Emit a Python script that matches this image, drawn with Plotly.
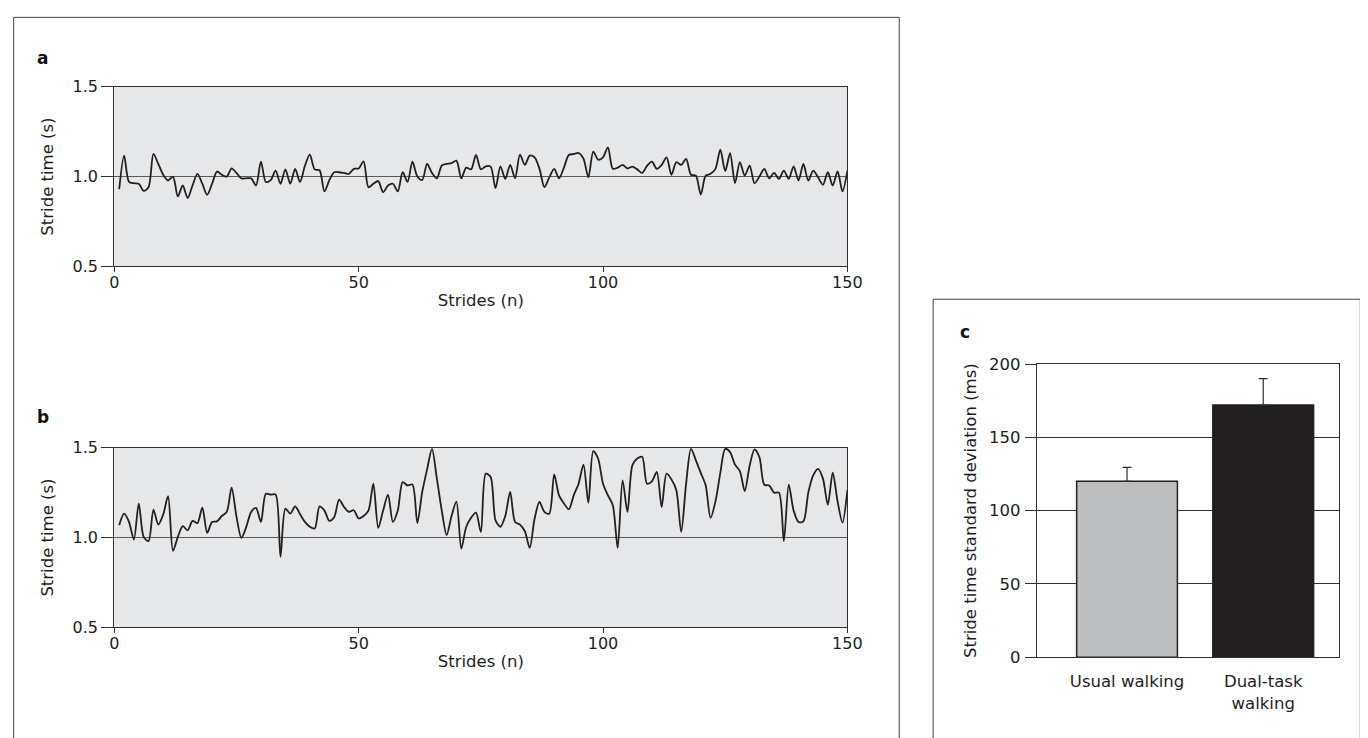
import plotly.graph_objects as go

# ---------------- data ----------------
strides = list(range(1, 151))

usual_stride_time = [
    0.93, 1.117, 0.97, 0.963, 0.96, 0.92, 0.94, 1.126, 1.07, 1.01,
    0.978, 1.0, 0.889, 0.95, 0.88, 0.95, 1.015, 0.96, 0.898, 0.96,
    1.028, 1.01, 1.0, 1.046, 1.02, 0.99, 0.99, 0.99, 0.95, 1.083,
    0.97, 0.98, 1.033, 0.96, 1.04, 0.96, 1.043, 0.97, 1.06, 1.122,
    1.04, 1.035, 0.917, 0.98, 1.024, 1.024, 1.02, 1.015, 1.043, 1.045,
    1.085, 0.94, 0.96, 0.975, 0.913, 0.95, 0.96, 0.917, 1.024, 0.97,
    1.083, 1.0, 0.98, 1.07, 1.02, 0.99, 1.061, 1.07, 1.075, 1.089,
    0.99, 1.05, 1.04, 1.12, 1.04, 1.057, 1.055, 0.935, 1.057, 0.987,
    1.065, 0.99, 1.122, 1.065, 1.117, 1.107, 1.043, 0.941, 0.995, 1.043,
    0.99, 1.05, 1.12, 1.125, 1.131, 1.1, 0.996, 1.139, 1.094, 1.107,
    1.163, 1.043, 1.05, 1.065, 1.045, 1.055, 1.04, 1.02, 1.06, 1.083,
    1.043, 1.065, 1.107, 1.01, 1.08, 1.065, 1.098, 1.01, 1.005, 0.9,
    1.005, 1.015, 1.043, 1.15, 1.03, 1.13, 0.963, 1.08, 1.005, 1.061,
    0.963, 1.0, 1.043, 0.99, 1.02, 0.987, 1.033, 0.987, 1.057, 0.978,
    1.07, 0.978, 1.033, 0.996, 0.954, 1.024, 0.95, 1.028, 0.917, 1.033,
]

dual_stride_time = [
    1.069, 1.133, 1.087, 0.989, 1.189, 1.004, 0.98, 1.156, 1.072, 1.128,
    1.23, 0.926, 1.004, 1.063, 1.04, 1.093, 1.08, 1.167, 1.026, 1.087,
    1.09, 1.12, 1.143, 1.278, 1.115, 0.998, 1.059, 1.143, 1.165, 1.087,
    1.244, 1.239, 1.24, 0.893, 1.161, 1.133, 1.174, 1.13, 1.087, 1.06,
    1.05, 1.174, 1.15, 1.093, 1.115, 1.211, 1.17, 1.143, 1.152, 1.106,
    1.12, 1.15, 1.30, 1.054, 1.15, 1.239, 1.087, 1.15, 1.309, 1.29,
    1.296, 1.081, 1.254, 1.38, 1.494, 1.328, 1.15, 1.013, 1.12, 1.2,
    0.939, 1.059, 1.11, 1.139, 1.031, 1.356, 1.337, 1.096, 1.06, 1.12,
    1.254, 1.087, 1.072, 1.035, 0.943, 1.106, 1.198, 1.143, 1.133, 1.352,
    1.235, 1.19, 1.157, 1.235, 1.30, 1.406, 1.194, 1.481, 1.439, 1.30,
    1.235, 1.18, 0.943, 1.319, 1.143, 1.402, 1.44, 1.45, 1.30, 1.313,
    1.365, 1.17, 1.356, 1.324, 1.263, 1.031, 1.30, 1.494, 1.43, 1.36,
    1.291, 1.109, 1.2, 1.36, 1.494, 1.476, 1.406, 1.37, 1.259, 1.40,
    1.491, 1.448, 1.294, 1.29, 1.25, 1.25, 0.98, 1.294, 1.15, 1.087,
    1.09, 1.25, 1.346, 1.383, 1.328, 1.183, 1.361, 1.2, 1.083, 1.263,
]

conditions = ["Usual walking", "Dual-task<br>walking"]
sd_ms = [120, 172]
sd_err_ms = [9.5, 18]
bar_colors = ["#bcbec0", "#231f20"]

# ---------------- layout helpers ----------------
W, H = 1368, 738
# observed placement of the figure in the photographed page
AX, BX = 0.988, 11.4
AY, BY = 0.977, 16.0


def fx(x):
    return min(max((x - BX) / AX / W, 0.0005), 0.9995)


def fy(y):
    return min(max(1 - (y - BY) / AY / H, 0.0005), 0.9995)


FONT = "DejaVu Sans, Verdana, sans-serif"
INK = "#231f20"
AXC = "#2e2e2e"
TXT = "#1e1e1e"

fig = go.Figure()

fig.add_trace(go.Scatter(x=strides, y=usual_stride_time, mode="lines",
                         line=dict(color=INK, width=1.8, shape="spline", smoothing=0.8),
                         xaxis="x", yaxis="y", showlegend=False))
fig.add_trace(go.Scatter(x=strides, y=dual_stride_time, mode="lines",
                         line=dict(color=INK, width=1.8, shape="spline", smoothing=0.8),
                         xaxis="x2", yaxis="y2", showlegend=False))
fig.add_trace(go.Bar(x=[0, 1], y=sd_ms, width=0.74,
                     marker=dict(color=bar_colors, line=dict(color=INK, width=1.5)),
                     error_y=dict(type="data", array=sd_err_ms, arrayminus=[0, 0],
                                  symmetric=False, color=AXC, thickness=1.2, width=4.5),
                     xaxis="x3", yaxis="y3", showlegend=False))

line_axis_x = dict(range=[0, 150], tickvals=[0, 50, 100, 150], ticks="outside", ticklen=5,
                   tickcolor=AXC, showline=True, linecolor=AXC, linewidth=1.2, mirror=True,
                   showgrid=False, zeroline=False, tickfont=dict(size=16, color=TXT),
                   ticklabelstandoff=-4,
                   title=dict(text="Strides (n)", font=dict(size=16.5, color=TXT), standoff=3))
line_axis_y = dict(range=[0.5, 1.5], tickvals=[0.5, 1.0, 1.5], ticktext=["0.5", "1.0", "1.5"],
                   ticks="outside", ticklen=12, tickcolor=AXC, showline=True, linecolor=AXC,
                   linewidth=1.2, mirror=True, showgrid=True, gridcolor="#5a5a5a", gridwidth=1,
                   zeroline=False, tickfont=dict(size=16, color=TXT), ticklabelstandoff=0,
                   title=dict(text="Stride time (s)", font=dict(size=16.5, color=TXT), standoff=14))

xa = dict(line_axis_x, domain=[fx(113), fx(848)], anchor="y")
ya = dict(line_axis_y, domain=[fy(266), fy(86)], anchor="x")
xb = dict(line_axis_x, domain=[fx(113), fx(848)], anchor="y2")
yb = dict(line_axis_y, domain=[fy(628), fy(448)], anchor="x2")

xc = dict(domain=[fx(1038), fx(1341)], anchor="y3", range=[-0.662, 1.557],
          tickvals=[0, 1], ticktext=conditions, ticks="", showline=True, linecolor=AXC,
          linewidth=1.2, mirror=True, showgrid=False, zeroline=False,
          tickfont=dict(size=16.5, color=TXT), ticklabelstandoff=9)
yc = dict(domain=[fy(658), fy(364)], anchor="x3", range=[0, 200],
          tickvals=[0, 50, 100, 150, 200], ticks="outside", ticklen=11, tickcolor=AXC,
          showline=True, linecolor=AXC, linewidth=1.2, mirror=True,
          showgrid=True, gridcolor="#333", gridwidth=1, zeroline=False,
          tickfont=dict(size=16.5, color=TXT), ticklabelstandoff=1,
          title=dict(text="Stride time standard deviation (ms)",
                     font=dict(size=16.5, color=TXT), standoff=8))

fig.update_layout(
    width=W, height=H,
    margin=dict(l=0, r=0, t=0, b=0),
    paper_bgcolor="white",
    plot_bgcolor="#e6e7e8",
    font=dict(family=FONT, color=TXT),
    xaxis=xa, yaxis=ya, xaxis2=xb, yaxis2=yb, xaxis3=xc, yaxis3=yc,
    shapes=[
        dict(type="rect", xref="paper", yref="paper", x0=fx(5), x1=fx(900), y0=-0.05, y1=fy(4),
             line=dict(color="#444", width=1), fillcolor="rgba(0,0,0,0)", layer="below"),
        dict(type="rect", xref="paper", yref="paper", x0=fx(934), x1=fx(1366), y0=-0.05, y1=fy(299),
             line=dict(color="#444", width=1), fillcolor="rgba(0,0,0,0)", layer="below"),
        # white plot area for the bar panel
        dict(type="rect", xref="x3 domain", yref="y3 domain", x0=0, x1=1, y0=0, y1=1,
             line=dict(width=0), fillcolor="white", layer="below"),
    ],
    annotations=[
        dict(text="<b>a</b>", x=fx(41), y=fy(57), xref="paper", yref="paper", showarrow=False,
             font=dict(size=17, color="#111"), xanchor="center", yanchor="middle"),
        dict(text="<b>b</b>", x=fx(41), y=fy(417), xref="paper", yref="paper", showarrow=False,
             font=dict(size=17, color="#111"), xanchor="center", yanchor="middle"),
        dict(text="<b>c</b>", x=fx(966), y=fy(332), xref="paper", yref="paper", showarrow=False,
             font=dict(size=17, color="#111"), xanchor="center", yanchor="middle"),
    ],
)

fig.write_html("out.html")
